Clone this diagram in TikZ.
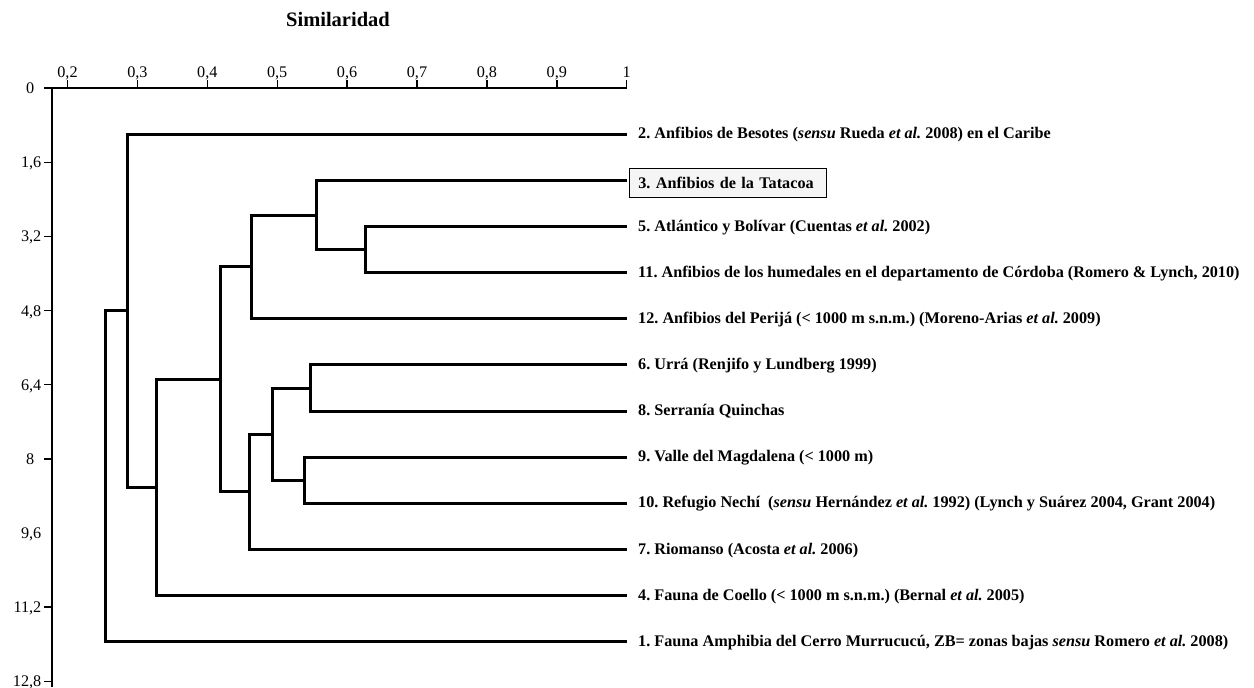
\documentclass[tikz,border=0pt]{standalone}
\usepackage{fontspec}
\setmainfont{Liberation Serif}
\frenchspacing
\begin{document}
\begin{tikzpicture}[x=1pt,y=-1pt,
  dend/.style={line width=3pt,line join=miter},
  axisline/.style={line width=1.4pt},
  lab/.style={anchor=base west,inner sep=0pt,font=\bfseries\fontsize{16.2}{19}\selectfont},
  ticklab/.style={inner sep=0pt,font=\fontsize{16.2}{19}\selectfont},
  hilite/.style={draw,line width=1.1pt,fill=gray!8,anchor=west,inner xsep=8.5pt,inner ysep=0pt,
     text width=179.7pt,align=left,minimum height=29pt,text depth=0pt,font=\bfseries\fontsize{16.2}{19}\selectfont}]
\useasboundingbox (0,0) rectangle (1254,688);

% title
\node[anchor=base,inner sep=0pt,font=\bfseries\fontsize{20.5}{24}\selectfont] (title) at (338,26) {Similaridad};

% axes
\draw[axisline] (52,88) -- (626.7,88);
\draw[axisline] (52,88) -- (52,687);
\foreach \x/\t [count=\i] in {67.5/{0,2},137.4/{0,3},207.3/{0,4},277.2/{0,5},347.1/{0,6},417/{0,7},486.9/{0,8},556.8/{0,9},626.7/{1}}{
  \draw[axisline] (\x,88) -- (\x,80);
  \node[ticklab,anchor=base] (tx\i) at (\x,77) {\t};
}
\foreach \y/\t/\xx [count=\i] in {88/{0}/34.5,162.2/{1,6}/41.5,236.3/{3,2}/41.5,310.5/{4,8}/41.5,384.6/{6,4}/41.5,458.8/{8}/34.5,607.1/{11,2}/41.5,681.2/{12,8}/41.5}{
  \draw[axisline] (52,\y) -- (44,\y);
  \node[ticklab,anchor=base east] (ty\i) at (\xx,\y+5.5) {\t};
}
\node[ticklab,anchor=base east] (ty96) at (41.5,532.9+5.5) {9,6};

% leaf ends
\coordinate (e2) at (626.7,134.3);
\coordinate (e3) at (626.7,180.4);
\coordinate (e5) at (626.7,226.6);
\coordinate (e11) at (626.7,272.7);
\coordinate (e12) at (626.7,318.8);
\coordinate (e6) at (626.7,364.9);
\coordinate (e8) at (626.7,411.1);
\coordinate (e9) at (626.7,457.2);
\coordinate (e10) at (626.7,503.3);
\coordinate (e7) at (626.7,549.5);
\coordinate (e4) at (626.7,595.6);
\coordinate (e1) at (626.7,641.7);

% junctions
\coordinate (j511) at (365,249.65);
\coordinate (j3) at (316,215.0);
\coordinate (j12) at (251,266.9);
\coordinate (j68) at (310,388.0);
\coordinate (j910) at (304,480.25);
\coordinate (j6910) at (272.7,434.1);
\coordinate (j7) at (249,491.8);
\coordinate (jA) at (220.7,379.35);
\coordinate (j4) at (156.7,487.5);
\coordinate (j2) at (127.5,310.9);
\coordinate (j1) at (105,476.3);

% dendrogram
\draw[dend] (e5) -| (j511) |- (e11);
\draw[dend] (e3) -| (j3) |- (j511);
\draw[dend] (j3) -| (j12) |- (e12);
\draw[dend] (e6) -| (j68) |- (e8);
\draw[dend] (e9) -| (j910) |- (e10);
\draw[dend] (j68) -| (j6910) |- (j910);
\draw[dend] (j6910) -| (j7) |- (e7);
\draw[dend] (j12) -| (jA) |- (j7);
\draw[dend] (jA) -| (j4) |- (e4);
\draw[dend] (e2) -| (j2) |- (j4);
\draw[dend] (j2) -| (j1) |- (e1);

% labels
\node[lab] (l2) at (638,134.3+4.5) {2. Anfibios de Besotes (\textit{sensu} Rueda \textit{et al.} 2008) en el Caribe};
\node[hilite] (l3) at (629.3,182.8) {\mbox{3. Anfibios de la Tatacoa}};
\node[lab] (l5) at (638,226.6+4.5) {5. Atlántico y Bolívar (Cuentas \textit{et al.} 2002)};
\node[lab] (l11) at (638,272.7+4.5) {11. Anfibios de los humedales en el departamento de Córdoba (Romero \& Lynch, 2010)};
\node[lab] (l12) at (638,318.8+4.5) {12. Anfibios del Perijá (< 1000 m s.n.m.) (Moreno-Arias \textit{et al.} 2009)};
\node[lab] (l6) at (638,364.9+4.5) {6. Urrá (Renjifo y Lundberg 1999)};
\node[lab] (l8) at (638,411.1+4.5) {8. Serranía Quinchas};
\node[lab] (l9) at (638,457.2+4.5) {9. Valle del Magdalena (< 1000 m)};
\node[lab] (l10) at (638,503.3+4.5) {10. Refugio Nechí\ \ (\textit{sensu} Hernández \textit{et al.} 1992) (Lynch y Suárez 2004, Grant 2004)};
\node[lab] (l7) at (638,549.5+4.5) {7. Riomanso (Acosta \textit{et al.} 2006)};
\node[lab] (l4) at (638,595.6+4.5) {4. Fauna de Coello (< 1000 m s.n.m.) (Bernal \textit{et al.} 2005)};
\node[lab] (l1) at (638,641.7+4.5) {1. Fauna Amphibia del Cerro Murrucucú, ZB= zonas bajas \textit{sensu} Romero \textit{et al.} 2008)};
\end{tikzpicture}
\end{document}
